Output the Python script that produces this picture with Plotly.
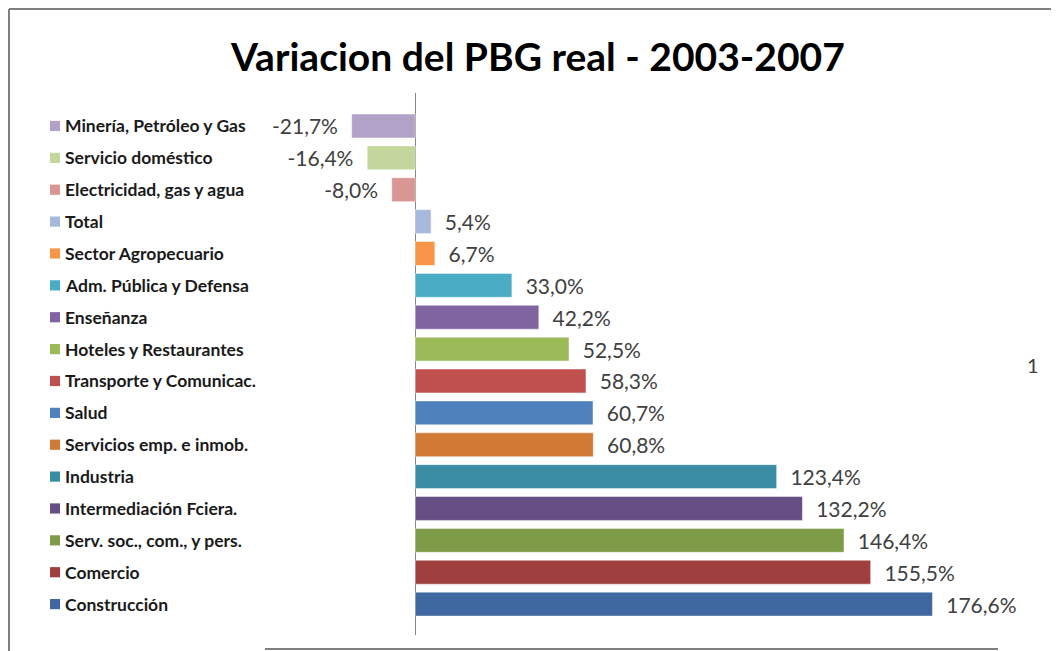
import plotly.graph_objects as go

categories = [
    "Minería, Petróleo y Gas", "Servicio doméstico", "Electricidad, gas y agua",
    "Total", "Sector Agropecuario", "Adm. Pública y Defensa", "Enseñanza",
    "Hoteles y Restaurantes", "Transporte y Comunicac.", "Salud",
    "Servicios emp. e inmob.", "Industria", "Intermediación Fciera.",
    "Serv. soc., com., y pers.", "Comercio", "Construcción",
]
values = [-21.7, -16.4, -8.0, 5.4, 6.7, 33.0, 42.2, 52.5, 58.3, 60.7,
          60.8, 123.4, 132.2, 146.4, 155.5, 176.6]
colors = [
    "#B3A2C7", "#C3D69B", "#D99694", "#A6B9DC", "#F79646", "#4BACC6",
    "#8064A2", "#9BBB59", "#C0504D", "#4F81BD", "#D07A35", "#3A8DA2",
    "#654F84", "#7E9B47", "#A0403E", "#3F67A0",
]
title_text = "Variacion del PBG real - 2003-2007"

# page has an 8px body margin; work in reference-image pixel coordinates
OFF = 8
W, H = 1059 - OFF, 651 - OFF
PL, PR, PT, PB = 342, 1001, 93, 635  # plot area in reference pixels
L, R, T, B = PL - OFF, (OFF + W) - PR, PT - OFF, (OFF + H) - PB
plot_w = PR - PL
plot_h = PB - PT
x_range = [-25, 200]

NB = "\u00a0\u00a0"
labels = []
for v in values:
    s = f"{v:.1f}".replace(".", ",") + "%"
    labels.append(s + NB if v < 0 else NB + s)
idx = list(range(len(categories)))

fig = go.Figure()
fig.add_trace(go.Bar(
    y=idx, x=values, orientation="h",
    marker=dict(color=colors, line=dict(color="rgba(255,255,255,0.45)", width=1)),
    width=0.75,
    text=labels, textposition="outside", cliponaxis=False, constraintext="none",
    textfont=dict(family="Lato, sans-serif", size=21, color="#404040"),
    hoverinfo="skip",
))


def xp(px):
    return (px - PL) / plot_w


def yp(py):
    return (PB - py) / plot_h


shapes = []
annotations = []
for i, (cat, col) in enumerate(zip(categories, colors)):
    shapes.append(dict(
        type="rect", xref="paper", yref="y",
        x0=xp(50), x1=xp(60), y0=i - 0.16, y1=i + 0.16,
        fillcolor=col, line=dict(width=0), layer="above",
    ))
    annotations.append(dict(
        text=cat, xref="paper", yref="y", x=xp(63), y=i,
        xanchor="left", yanchor="middle", showarrow=False,
        font=dict(family="Lato, sans-serif", size=17.5, color="#1a1a1a", weight="bold"),
    ))

annotations.append(dict(
    text="1", xref="paper", yref="paper", x=xp(1033), y=yp(365),
    xanchor="center", yanchor="middle", showarrow=False,
    font=dict(family="Lato, sans-serif", size=20, color="#404040"),
))
annotations.append(dict(
    text=title_text, xref="paper", yref="paper", x=xp(537), y=yp(56),
    xanchor="center", yanchor="middle", showarrow=False,
    font=dict(family="Lato, sans-serif", size=39, color="#000000", weight="bold"),
))

# frame lines of the original chart area
shapes.append(dict(type="line", xref="paper", yref="paper",
                   x0=xp(9), x1=xp(1070), y0=yp(9), y1=yp(9),
                   line=dict(color="#7F7F7F", width=2)))
shapes.append(dict(type="line", xref="paper", yref="paper",
                   x0=xp(9), x1=xp(9), y0=yp(9), y1=yp(660),
                   line=dict(color="#7F7F7F", width=2)))
shapes.append(dict(type="line", xref="paper", yref="paper",
                   x0=xp(265), x1=xp(998), y0=yp(649), y1=yp(649),
                   line=dict(color="#7F7F7F", width=2)))

fig.update_layout(
    width=W, height=H,
    margin=dict(l=L, r=R, t=T, b=B),
    paper_bgcolor="white", plot_bgcolor="white",
    showlegend=False,
    shapes=shapes, annotations=annotations,
    xaxis=dict(range=x_range, showgrid=False, showticklabels=False, ticks="",
               zeroline=True, zerolinecolor="#868686", zerolinewidth=1, fixedrange=True),
    yaxis=dict(range=[15.97, -1.035], showgrid=False, showticklabels=False, ticks="",
               zeroline=False, fixedrange=True),
)

fig.write_html("out.html")
